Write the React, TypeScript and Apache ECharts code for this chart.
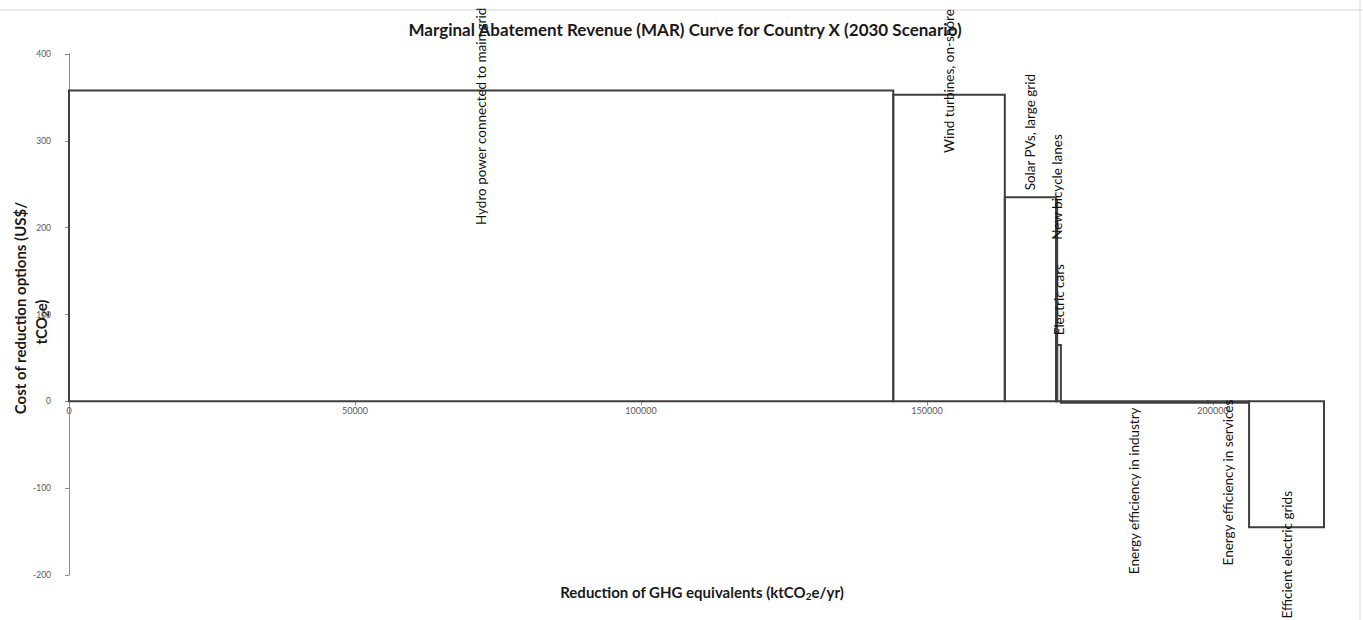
import React, { useEffect, useRef } from "react";
import * as echarts from "echarts";

// Abatement options (in merit order)
const optionNames = [
  "Hydro power connected to main grid",
  "Wind turbines, on-shore",
  "Solar PVs, large grid",
  "New bicycle lanes",
  "Electric cars",
  "Energy efficiency in industry",
  "Energy efficiency in services",
  "Efficient electric grids",
];
// Reduction potential of each option (ktCO2e/yr) = bar width
const reductions = [144100, 19500, 8950, 200, 650, 25700, 7200, 13100];
// Cost of each option (US$/tCO2e) = bar height
const costs = [358, 353, 235, 232, 65, -1.5, -1.5, -145];
// Where each rotated label begins (in US$/tCO2e units)
const labelStart = [203, 286, 243, 186, 76, -199, -189, -250];

const xTicks = [0, 50000, 100000, 150000, 200000];

const FONT = "Lato, 'Open Sans', sans-serif";

export default function App() {
  const ref = useRef<HTMLDivElement>(null);
  useEffect(() => {
    if (!ref.current) return;
    const chart = echarts.init(ref.current, undefined, { renderer: "svg" });
    const data: number[][] = [];
    let acc = 0;
    for (let i = 0; i < reductions.length; i++) {
      data.push([acc, acc + reductions[i], costs[i], labelStart[i]]);
      acc += reductions[i];
    }
    const xMax = acc;
    const gridTop = 54;
    const gridBottom = 45;
    const yMin = -200;
    const yMax = 400;
    const plotH = 620 - gridTop - gridBottom;
    const zeroFromBottom = (plotH * (0 - yMin)) / (yMax - yMin);
    chart.setOption({
      animation: false,
      backgroundColor: "#ffffff",
      grid: { left: 69, right: 39, top: gridTop, bottom: gridBottom },
      xAxis: {
        type: "value",
        min: 0,
        max: xMax,
        offset: -zeroFromBottom,
        axisLine: { onZero: false, lineStyle: { color: "#8c8c8c", width: 1 } },
        axisTick: { show: true, customValues: xTicks, length: 4, inside: false, lineStyle: { color: "#8c8c8c" } },
        axisLabel: {
          customValues: xTicks,
          fontSize: 9,
          color: "#595959",
          fontFamily: FONT,
          margin: 5,
          formatter: (v: number) => String(v),
        },
        splitLine: { show: false },
      },
      yAxis: {
        type: "value",
        min: yMin,
        max: yMax,
        interval: 100,
        axisLine: { show: true, onZero: false, lineStyle: { color: "#8c8c8c", width: 1 } },
        axisTick: { show: true, length: 4, lineStyle: { color: "#8c8c8c" } },
        axisLabel: { fontSize: 8.5, color: "#595959", fontFamily: FONT, margin: 18 },
        splitLine: { show: false },
      },
      graphic: [
        { type: "line", shape: { x1: 0, y1: 10, x2: 1363, y2: 10 }, style: { stroke: "#cfcfcf", lineWidth: 1 }, silent: true },
        { type: "line", shape: { x1: 1360, y1: 0, x2: 1360, y2: 620 }, style: { stroke: "#dcdcdc", lineWidth: 1 }, silent: true },
        {
          type: "text",
          x: 685,
          y: 29,
          style: {
            text: "Marginal Abatement Revenue (MAR) Curve for Country X (2030 Scenario)",
            font: `bold 17px ${FONT}`,
            fill: "#1a1a1a",
            align: "center",
            verticalAlign: "middle",
          },
          z: 10,
        },
        {
          type: "text",
          x: 702,
          y: 592,
          style: {
            text: "{a|Reduction of GHG equivalents (ktCO}{s|2}{a|e/yr)}",
            rich: {
              a: { fontFamily: FONT, fontWeight: "bold", fontSize: 15, fill: "#1a1a1a" },
              s: { fontFamily: FONT, fontWeight: "bold", fontSize: 10, fill: "#1a1a1a", padding: [7, 0, 0, 0] },
            },
            align: "center",
            verticalAlign: "middle",
          },
        },
        {
          type: "text",
          x: 20,
          y: 308,
          rotation: Math.PI / 2,
          style: {
            text: "Cost of reduction options (US$/",
            font: `bold 15px ${FONT}`,
            fill: "#1a1a1a",
            align: "center",
            verticalAlign: "middle",
          },
        },
        {
          type: "text",
          x: 41,
          y: 322,
          rotation: Math.PI / 2,
          style: {
            text: "{a|tCO}{s|2}{a|e)}",
            rich: {
              a: { fontFamily: FONT, fontWeight: "bold", fontSize: 15, fill: "#1a1a1a" },
              s: { fontFamily: FONT, fontWeight: "bold", fontSize: 10, fill: "#1a1a1a", padding: [7, 0, 0, 0] },
            },
            align: "center",
            verticalAlign: "middle",
          },
        },
      ],
      series: [
        {
          type: "custom",
          clip: false,
          data,
          encode: { x: [0, 1], y: [2] },
          renderItem: (params: any, api: any) => {
            const x0 = api.value(0);
            const x1 = api.value(1);
            const v = api.value(2);
            const ls = api.value(3);
            const p0 = api.coord([x0, 0]);
            const p1 = api.coord([x1, v]);
            const lab = api.coord([(x0 + x1) / 2, ls]);
            return {
              type: "group",
              children: [
                {
                  type: "rect",
                  shape: {
                    x: p0[0],
                    y: Math.min(p0[1], p1[1]),
                    width: p1[0] - p0[0],
                    height: Math.abs(p1[1] - p0[1]),
                  },
                  style: { fill: "none", stroke: "#3f3f3f", lineWidth: 2 },
                },
                {
                  type: "text",
                  x: lab[0],
                  y: lab[1],
                  rotation: Math.PI / 2,
                  style: {
                    text: optionNames[params.dataIndex],
                    font: `13.5px ${FONT}`,
                    fill: "#111111",
                    align: "left",
                    verticalAlign: "middle",
                  },
                  z2: 5,
                },
              ],
            };
          },
        },
      ],
    });
    return () => chart.dispose();
  }, []);
  return (
    <div
      ref={ref}
      style={{ position: "fixed", left: 0, top: 0, width: 1363, height: 620, background: "#fff" }}
    />
  );
}
